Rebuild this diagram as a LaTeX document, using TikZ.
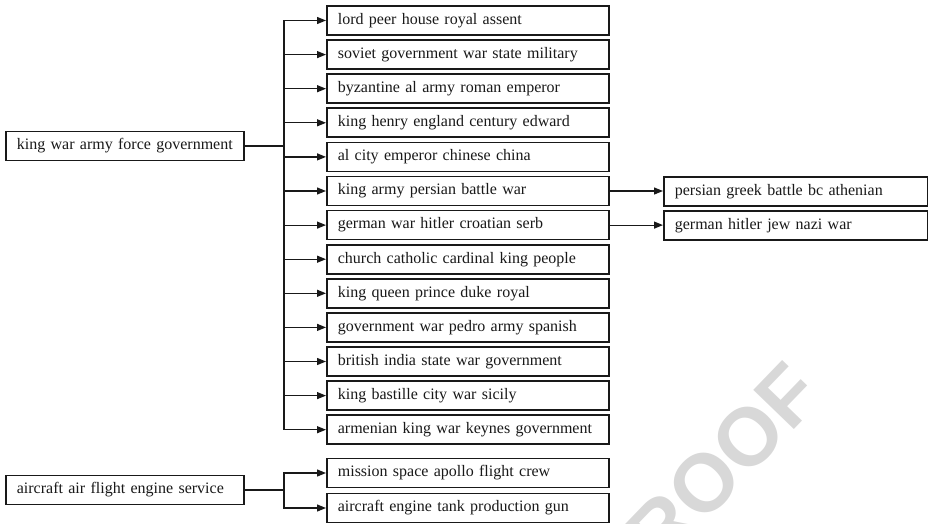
\documentclass[tikz,border=0pt]{standalone}
\usepackage{fontspec}
\setmainfont{Liberation Serif}
\newfontfamily\stampfont{Liberation Sans}
\usetikzlibrary{arrows.meta}
\definecolor{ink}{RGB}{25,25,25}
\definecolor{stamp}{RGB}{216,216,216}
\tikzset{
  every picture/.style={color=ink, line width=1.2pt, font=\fontsize{16}{19}\selectfont},
  box/.style={draw=ink, line width=1.7pt, fill=white, anchor=west, align=left, inner xsep=11pt, inner ysep=0pt, minimum height=29pt},
  root/.style={box, text width=216pt},
  topic/.style={box, text width=260pt},
  leaf/.style={box, text width=242pt},
  flow/.style={-{Triangle[length=9pt,width=7pt]}, line width=1.2pt},
  stamptext/.style={font=\stampfont\bfseries\fontsize{82}{82}\selectfont, text=stamp, rotate=46},
}

\begin{document}
\begin{tikzpicture}[x=1pt, y=-1pt]
  \useasboundingbox (0,0) rectangle (928,524);
  % watermark, cut off by the page edge
  \begin{scope}
    \clip (0,0) rectangle (928,524);
    \node[stamptext] (wm) at (704,483) {PROOF};
  \end{scope}
  % first tree
  \node[root] (K) at (5,146) {king war army force government};
  \node[topic] (T1) at (326,20.5) {lord peer house royal assent};
  \node[topic] (T2) at (326,54.6) {soviet government war state military};
  \node[topic] (T3) at (326,88.7) {byzantine al army roman emperor};
  \node[topic] (T4) at (326,122.8) {king henry england century edward};
  \node[topic] (T5) at (326,156.9) {al city emperor chinese china};
  \node[topic] (T6) at (326,191.0) {king army persian battle war};
  \node[topic] (T7) at (326,225.1) {german war hitler croatian serb};
  \node[topic] (T8) at (326,259.2) {church catholic cardinal king people};
  \node[topic] (T9) at (326,293.3) {king queen prince duke royal};
  \node[topic] (T10) at (326,327.4) {government war pedro army spanish};
  \node[topic] (T11) at (326,361.5) {british india state war government};
  \node[topic] (T12) at (326,395.6) {king bastille city war sicily};
  \node[topic] (T13) at (326,429.7) {armenian king war keynes government};
  \node[leaf] (P) at (663,191.5) {persian greek battle bc athenian};
  \node[leaf] (G) at (663,225.5) {german hitler jew nazi war};
  \coordinate (Kj) at (284,146);
  \foreach \n in {1,...,13}
    \draw[flow] (K.east) -- (Kj) |- (T\n.west);
  \draw[flow] (T6.east) -- (T6.east -| P.west);
  \draw[flow] (T7.east) -- (T7.east -| G.west);
  % second tree
  \node[root] (A) at (5,490) {aircraft air flight engine service};
  \node[topic] (M) at (326,473) {mission space apollo flight crew};
  \node[topic] (E) at (326,508) {aircraft engine tank production gun};
  \coordinate (Aj) at (284,490);
  \draw[flow] (A.east) -- (Aj) |- (M.west);
  \draw[flow] (A.east) -- (Aj) |- (E.west);
\end{tikzpicture}
\end{document}
